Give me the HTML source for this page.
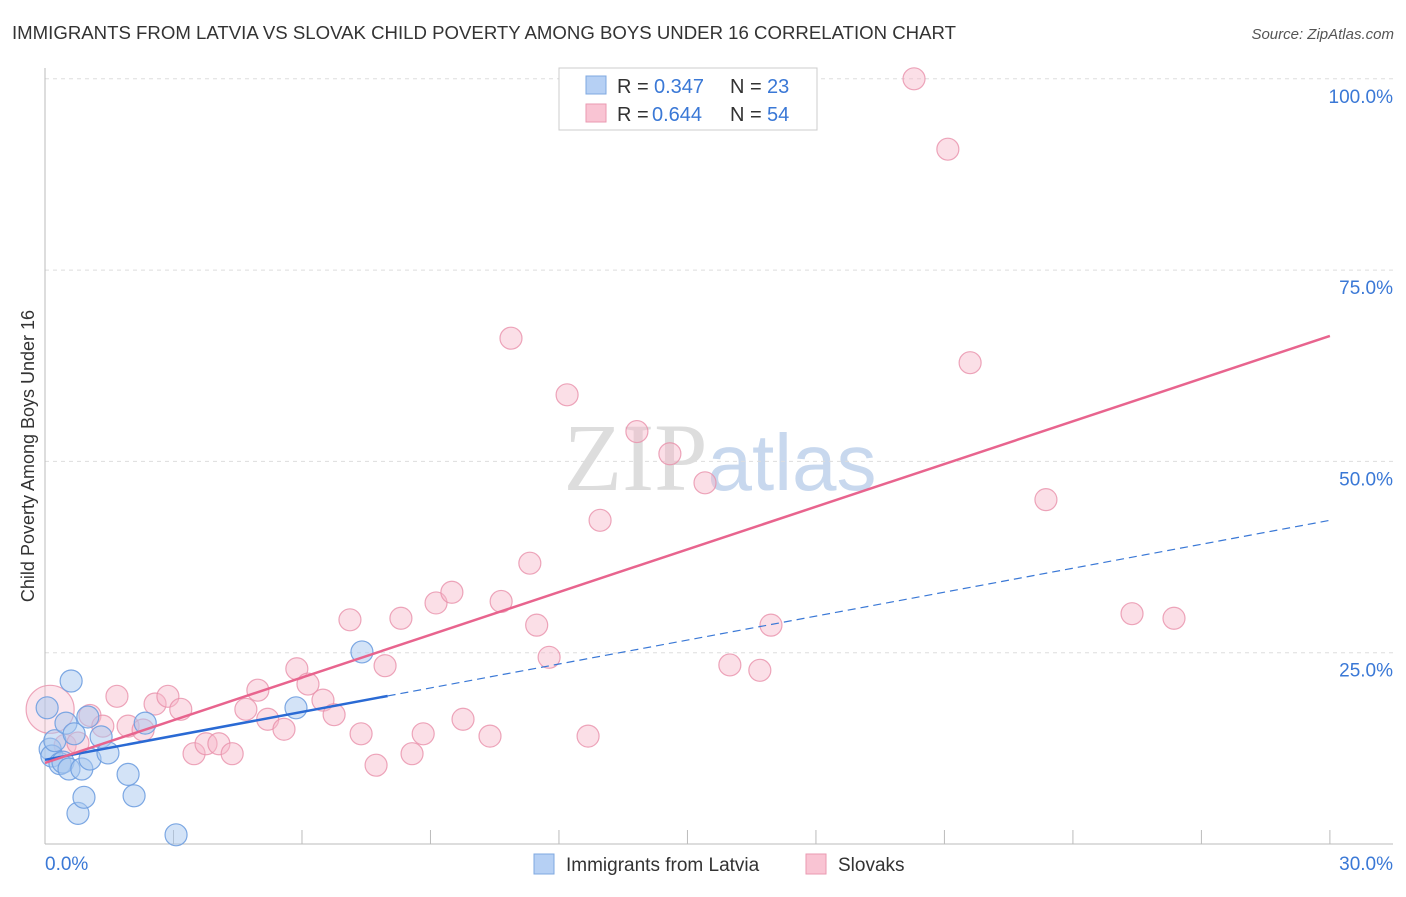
<!DOCTYPE html>
<html><head><meta charset="utf-8"><style>
body{margin:0;background:#fff;font-family:"Liberation Sans",sans-serif}
</style></head><body>
<svg id="chart" width="1406" height="892" xmlns="http://www.w3.org/2000/svg" font-family="Liberation Sans, sans-serif">
<text x="12" y="39" font-size="18" fill="#333" textLength="944" lengthAdjust="spacingAndGlyphs">IMMIGRANTS FROM LATVIA VS SLOVAK CHILD POVERTY AMONG BOYS UNDER 16 CORRELATION CHART</text>
<text x="1394" y="39" font-size="15" fill="#555" font-style="italic" text-anchor="end">Source: ZipAtlas.com</text>
<text x="720" y="490" font-size="96" fill="#ddd" text-anchor="middle" font-family="Liberation Serif, serif">ZIP<tspan fill="#c8d8ee" font-family="Liberation Sans, sans-serif" font-size="80">atlas</tspan></text>
<text transform="translate(34,456) rotate(-90)" font-size="18" fill="#333" text-anchor="middle">Child Poverty Among Boys Under 16</text>
<g id="grid"></g><g id="marks"></g>
<g>
<rect x="559" y="68" width="258" height="62" fill="#fff" stroke="#ccc"/>
<rect x="586" y="76" width="20" height="18" fill="#b6d0f4" stroke="#7fa8e0"/>
<text x="617" y="93" font-size="20" fill="#333">R =</text>
<text x="654" y="93" font-size="20" fill="#3a78d6">0.347</text>
<text x="730" y="93" font-size="20" fill="#333">N =</text>
<text x="767" y="93" font-size="20" fill="#3a78d6">23</text>
<rect x="586" y="104" width="20" height="18" fill="#f9c4d3" stroke="#ea9ab2"/>
<text x="617" y="121" font-size="20" fill="#333">R =</text>
<text x="652" y="121" font-size="20" fill="#3a78d6">0.644</text>
<text x="730" y="121" font-size="20" fill="#333">N =</text>
<text x="767" y="121" font-size="20" fill="#3a78d6">54</text>
</g>
<g>
<rect x="534" y="854" width="20" height="20" fill="#b6d0f4" stroke="#7fa8e0"/>
<text x="566" y="871" font-size="19" fill="#333">Immigrants from Latvia</text>
<rect x="806" y="854" width="20" height="20" fill="#f9c4d3" stroke="#ea9ab2"/>
<text x="838" y="871" font-size="19" fill="#333">Slovaks</text>
</g>
</svg>
<script>
const xTicks=[0,30];
const yTicks=[25,50,75,100];
const blueX=[0.05,0.12,0.16,0.23,0.35,0.42,0.49,0.56,0.61,0.68,0.77,0.86,0.91,1.0,1.05,1.31,1.47,1.94,2.08,2.34,3.06,5.86,7.4];
const blueY=[17.8,12.4,11.5,13.5,10.5,10.7,15.8,9.8,21.3,14.4,4.0,9.8,6.1,16.6,11.1,14.0,11.9,9.1,6.3,15.8,1.2,17.8,25.1];
const pinkX=[0.12,0.47,0.77,1.05,1.35,1.68,1.94,2.29,2.57,2.87,3.17,3.48,3.76,4.06,4.37,4.69,4.97,5.2,5.58,5.88,6.14,6.49,6.75,7.12,7.38,7.73,7.94,8.31,8.57,8.83,9.13,9.5,9.76,10.39,10.65,10.88,11.32,11.48,11.77,12.19,12.68,12.96,13.82,14.59,15.41,15.99,16.69,16.95,20.29,21.08,21.6,23.37,25.38,26.36];
const pinkY=[17.6,12.9,13.2,16.8,15.4,19.3,15.4,14.9,18.3,19.3,17.6,11.8,13.1,13.1,11.8,17.6,20.1,16.3,15.0,22.9,20.9,18.8,16.9,29.3,14.4,10.3,23.3,29.5,11.8,14.4,31.5,32.9,16.3,14.1,31.7,66.1,36.7,28.6,24.4,58.7,14.1,42.3,53.9,51.0,47.2,23.4,22.7,28.6,100,90.8,62.9,45.0,30.1,29.5];
const pinkFit=[10.6,66.4];
const blueFit=[11.0,42.3];
const NS='http://www.w3.org/2000/svg';
const X=v=>45+v*42.83, Y=v=>844-v*7.652;
function mk(t,a,p){const e=document.createElementNS(NS,t);for(const k in a)e.setAttribute(k,a[k]);p.appendChild(e);return e;}
const g=document.getElementById('grid'), m=document.getElementById('marks');
yTicks.forEach(t=>{const l=mk('line',{x1:45,x2:1393,y1:Y(t),y2:Y(t),stroke:'#ddd','stroke-dasharray':'4,4'},g);


const tx=mk('text',{x:1393,y:Y(t)+24,'font-size':19,fill:'#3a78d6','text-anchor':'end'},g);tx.textContent=t.toFixed(1)+'%';

});
const ax=mk('line',{x1:45,x2:1393,y1:844,y2:844,stroke:'#bbb'},g);


const ay=mk('line',{x1:45,x2:45,y1:68,y2:844,stroke:'#bbb'},g);


for(let i=1;i<=10;i++){const v=i*3;const l=mk('line',{x1:X(v),x2:X(v),y1:830,y2:844,stroke:'#bbb'},g);

}
xTicks.forEach((t,i)=>{const tx=mk('text',{x:i?1393:45,y:870,'font-size':19,fill:'#3a78d6','text-anchor':i?'end':'start'},g);tx.textContent=t.toFixed(1)+'%';

});
pinkX.forEach((x,i)=>{const c=mk('circle',{cx:X(x),cy:Y(pinkY[i]),r:i==0?24:11,fill:'#f7b8ca','fill-opacity':i==0?0.35:0.45,stroke:'#e890aa','stroke-opacity':0.8,'stroke-width':1.2},m);

});
blueX.forEach((x,i)=>{const c=mk('circle',{cx:X(x),cy:Y(blueY[i]),r:11,fill:'#a8c8f0','fill-opacity':0.5,stroke:'#6f9ee0','stroke-opacity':0.9,'stroke-width':1.2},m);

});
const bAt=v=>blueFit[0]+(blueFit[1]-blueFit[0])*v/30;
const bd=mk('line',{x1:X(8),y1:Y(bAt(8)),x2:X(30),y2:Y(bAt(30)),stroke:'#3a78d6','stroke-width':1.2,'stroke-dasharray':'8,5'},m);


const bs=mk('line',{x1:X(0),y1:Y(bAt(0)),x2:X(8),y2:Y(bAt(8)),stroke:'#2a6ad4','stroke-width':2.5},m);


const pl=mk('line',{x1:X(0),y1:Y(pinkFit[0]),x2:X(30),y2:Y(pinkFit[1]),stroke:'#e8648e','stroke-width':2.5},m);


</script>
</body></html>
